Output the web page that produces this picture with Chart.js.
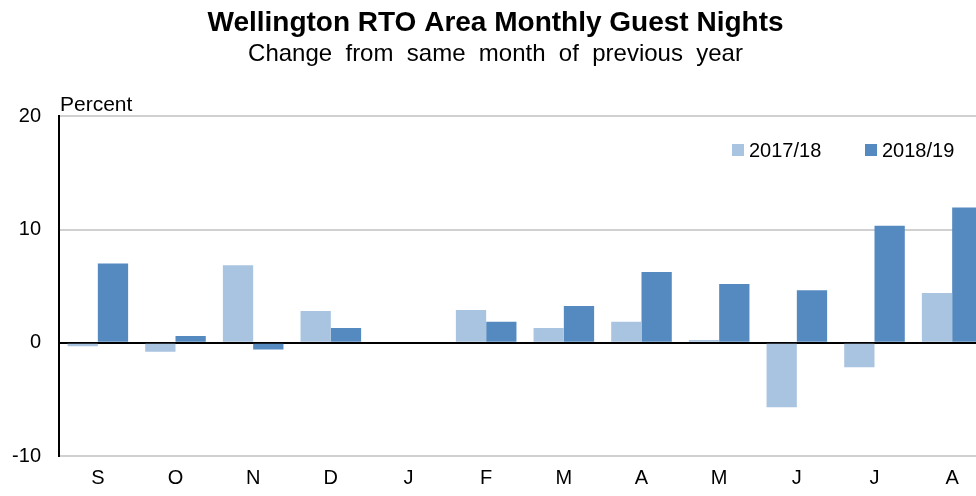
<!DOCTYPE html>
<html>
<head>
<meta charset="utf-8">
<script src="https://cdn.jsdelivr.net/npm/chart.js@4/dist/chart.umd.min.js"></script>
<style>
html,body{margin:0;padding:0;background:#fff;overflow:hidden;width:976px;height:496px;}
#wrap{width:1002px;height:496px;position:relative;}
</style>
</head>
<body>
<div id="wrap"><canvas id="c" width="1002" height="496"></canvas></div>
<script>
const categories = ['S','O','N','D','J','F','M','A','M','J','J','A'];
const series2017 = [-0.3, -0.8, 6.85, 2.8, 0.0, 2.9, 1.3, 1.85, 0.25, -5.7, -2.15, 4.4];
const series2018 = [7.0, 0.6, -0.6, 1.3, 0.1, 1.85, 3.25, 6.25, 5.2, 4.65, 10.35, 11.95];
const seriesNames = ['2017/18', '2018/19'];
const yTicks = [-10, 0, 10, 20];
const titleText = 'Wellington RTO Area Monthly Guest Nights';
const subtitleText = 'Change  from  same  month  of  previous  year';
const yUnitLabel = 'Percent';

const colLight = '#A9C4E0';
const colDark = '#558AC1';
const FONT = 'Liberation Sans, Arial, sans-serif';

const extras = {
  id: 'extras',
  afterDraw(chart) {
    const ctx = chart.ctx;
    const ca = chart.chartArea;
    ctx.save();
    ctx.font = '21px ' + FONT;
    ctx.fillStyle = '#000';
    ctx.textBaseline = 'middle';
    ctx.textAlign = 'left';
    ctx.fillText(yUnitLabel, ca.left + 1, ca.top - 11);
    ctx.font = '20px ' + FONT;
    const items = [
      {x: 732, c: colLight, t: seriesNames[0]},
      {x: 865, c: colDark, t: seriesNames[1]}
    ];
    const ly = 150;
    items.forEach(it => {
      ctx.fillStyle = it.c;
      ctx.fillRect(it.x, ly - 6, 12, 12);
      ctx.fillStyle = '#000';
      ctx.fillText(it.t, it.x + 17, ly + 1);
    });
    ctx.restore();
  }
};

new Chart(document.getElementById('c'), {
  type: 'bar',
  data: {
    labels: categories,
    datasets: [
      {label: seriesNames[0], data: series2017, backgroundColor: colLight, borderWidth: 0, categoryPercentage: 0.78, barPercentage: 1.0},
      {label: seriesNames[1], data: series2018, backgroundColor: colDark, borderWidth: 0, categoryPercentage: 0.78, barPercentage: 1.0}
    ]
  },
  options: {
    responsive: false,
    animation: false,
    layout: {padding: {left: 0, right: 11, top: 0, bottom: 0}},
    plugins: {
      legend: {display: false},
      tooltip: {enabled: false},
      title: {display: true, text: titleText, color: '#000', font: {family: FONT, size: 28, weight: 'bold'}, padding: {top: 6, bottom: 0}},
      subtitle: {display: true, text: subtitleText, color: '#000', font: {family: FONT, size: 24}, padding: {top: 0, bottom: 48}}
    },
    scales: {
      x: {
        grid: {display: false},
        border: {display: true, color: '#D0D0D0', width: 2},
        ticks: {color: '#000', font: {family: FONT, size: 20}, padding: 2, maxRotation: 0},
        afterFit(s) { s.height = 40; }
      },
      y: {
        min: -10, max: 20,
        afterBuildTicks(s) { s.ticks = yTicks.map(v => ({value: v})); },
        grid: {
          color: c => c.tick && c.tick.value === 0 ? '#000' : '#D0D0D0',
          lineWidth: 2,
          drawTicks: false
        },
        border: {display: true, color: '#000', width: 2},
        ticks: {color: '#000', font: {family: FONT, size: 20}, padding: 18},
        afterFit(s) { s.width = 59; }
      }
    }
  },
  plugins: [extras]
});
</script>
</body>
</html>
